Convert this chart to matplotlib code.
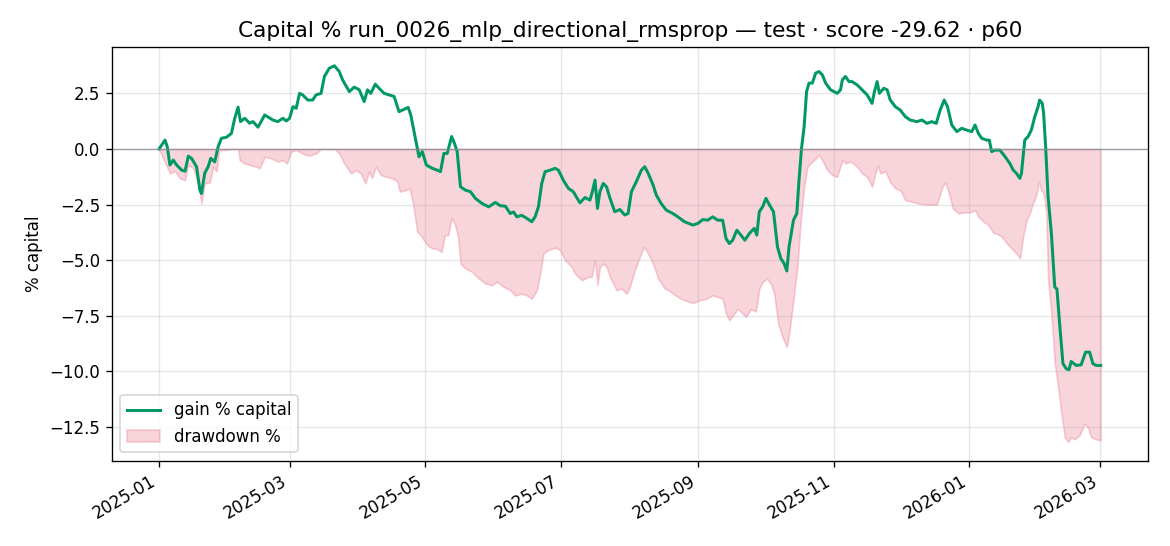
import matplotlib
matplotlib.use("Agg")
import matplotlib.pyplot as plt
import matplotlib.dates as mdates
import pandas as pd
import numpy as np

START = "2025-01-01"
TITLE = "Capital % run_0026_mlp_directional_rmsprop — test · score -29.62 · p60"

gain_days = [
    0, 2.7, 3.7, 4.9, 6.4, 7.9, 10.2, 11.7, 13.2, 14.7, 16.9, 18.4, 19.1, 20.6, 22.1, 23.3,
    25.1, 26.6, 28.1, 30.4, 32.6, 34.1, 35.6, 36.7, 38.6, 40.8, 42.3, 44.6, 47.6, 51.3, 53.5,
    55.8, 57.3, 58.8, 60.3, 61.8, 63.3, 64.7, 67.0, 69.2, 70.7, 73.0, 74.5, 76.7, 79.0, 81.2,
    82.7, 85.7, 87.9, 90.2, 92.4, 93.9, 95.4, 97.4, 99.1, 101.4, 103.6, 105.9, 108.1, 110.4,
    112.2, 113.4, 115.6, 117.1, 118.6, 120.4, 123.1, 125.3, 126.8, 128.3, 129.8, 131.8, 132.8,
    134.3, 135.8, 138.0, 140.3, 142.5, 145.5, 148.5, 151.5, 153.7, 156.0, 158.2, 159.7, 161.2,
    163.4, 165.7, 167.9, 169.4, 170.9, 172.4, 173.9, 176.2, 178.4, 179.9, 182.1, 184.4, 186.6,
    189.6, 191.9, 194.1, 195.2, 196.4, 197.5, 198.6, 200.1, 201.6, 203.1, 205.3, 207.6, 209.8,
    211.3, 212.8, 215.0, 217.3, 218.8, 220.3, 222.5, 224.0, 226.2, 228.5, 231.5, 233.7, 236.7,
    240.5, 242.7, 245.0, 247.2, 249.4, 251.7, 253.9, 255.4, 256.9, 258.4, 260.3, 262.1, 263.9,
    265.9, 268.1, 269.3, 270.4, 271.9, 273.4, 274.9, 276.8, 278.6, 280.1, 281.6, 282.8, 283.8,
    285.8, 287.3, 288.3, 289.4, 290.6, 291.7, 292.8, 294.3, 295.8, 297.3, 298.8, 300.3, 302.5,
    305.5, 307.0, 307.8, 309.2, 310.8, 312.2, 314.5, 316.7, 319.0, 321.2, 322.3, 323.5, 324.5,
    326.5, 328.0, 329.4, 331.7, 333.9, 336.2, 338.4, 341.4, 343.7, 345.9, 348.1, 350.1, 351.9,
    353.7, 355.2, 357.1, 359.4, 361.6, 363.8, 366.1, 367.6, 369.1, 370.6, 372.8, 374.0, 375.1,
    376.5, 378.8, 381.0, 383.3, 384.8, 386.3, 387.8, 388.5, 390.0, 391.5, 393.0, 394.5, 396.0,
    396.7, 397.9, 398.5, 399.4, 400.5, 402.0, 403.5, 404.5, 405.7, 407.2, 408.7, 409.9, 410.9,
    413.2, 415.4, 417.4, 419.2, 420.7, 422.2, 424.2,
]
gain_pct = [
    0.0, 0.4, 0.1, -0.72, -0.5, -0.72, -0.95, -1.0, -0.32, -0.43, -0.8, -1.85, -2.0, -1.08, -0.8, -0.42,
    -0.58, 0.1, 0.48, 0.53, 0.7, 1.38, 1.88, 1.23, 1.38, 1.16, 1.23, 0.98, 1.53, 1.3, 1.23,
    1.38, 1.26, 1.38, 1.9, 1.83, 2.5, 2.43, 2.2, 2.2, 2.43, 2.5, 3.26, 3.63, 3.74, 3.48,
    3.1, 2.58, 2.78, 2.66, 2.13, 2.66, 2.5, 2.91, 2.73, 2.5, 2.43, 2.36, 1.68, 1.78,
    1.87, 1.53, 0.4, -0.35, -0.12, -0.72, -0.87, -0.95, -1.02, -0.2, -0.2, 0.56, 0.33,
    -0.12, -1.7, -1.85, -1.92, -2.22, -2.45, -2.6, -2.4, -2.55, -2.57, -2.9, -2.83, -3.05,
    -2.98, -3.12, -3.27, -3.05, -2.6, -1.55, -1.02, -0.95, -0.87, -0.95, -1.4, -1.77, -1.92,
    -2.42, -2.18, -2.3, -1.92, -1.4, -2.67, -1.92, -1.55, -1.7, -2.2, -2.82, -2.72, -2.97,
    -2.9, -1.92, -1.47, -0.95, -0.8, -1.08, -1.6, -2.07, -2.45, -2.75, -2.9, -3.05, -3.27,
    -3.42, -3.35, -3.17, -3.2, -3.05, -3.2, -3.2, -4.02, -4.25, -4.1, -3.65, -3.87, -4.1,
    -3.8, -3.57, -3.87, -2.82, -2.6, -2.22, -2.5, -2.82, -4.4, -4.92, -5.15, -5.48, -4.4,
    -3.2, -2.9, -1.4, 0.0, 1.0, 2.58, 2.96, 2.96, 3.41, 3.48, 3.33, 2.96, 2.66,
    2.5, 2.66, 3.1, 3.26, 3.03, 3.03, 2.88, 2.66, 2.43, 2.05, 2.58, 3.03, 2.5,
    2.73, 2.66, 2.2, 1.9, 1.75, 1.45, 1.3, 1.23, 1.3, 1.15, 1.23, 1.15, 1.75,
    2.2, 1.9, 1.08, 0.78, 0.93, 0.85, 0.78, 1.08, 0.7, 0.48, 0.4, 0.4, -0.12,
    -0.05, -0.05, -0.33, -0.65, -0.95, -1.1, -1.32, -1.1, 0.4, 0.56, 0.86, 1.45, 1.9,
    2.2, 2.05, 1.6, 0.1, -2.15, -3.8, -6.2, -6.3, -7.85, -9.65, -9.88, -9.92, -9.55,
    -9.73, -9.7, -9.13, -9.13, -9.65, -9.73, -9.73,
]

dd_days = [
    0, 4.9, 7.2, 9.4, 11.7, 13.2, 15.4, 17.6, 19.1, 20.6, 22.9, 24.4, 25.9, 27.1, 29.6, 31.9,
    34.1, 35.6, 36.3, 38.6, 40.8, 43.8, 45.3, 47.6, 50.6, 53.5, 55.8, 57.6, 59.5, 61.8,
    65.5, 67.7, 70.7, 73.0, 79.0, 81.2, 83.4, 86.5, 88.7, 90.9, 92.9, 94.7, 95.9, 97.7,
    99.9, 102.2, 105.1, 107.4, 108.4, 111.1, 112.9, 114.4, 116.3, 117.9, 119.3, 120.8, 123.1,
    124.6, 127.3, 128.8, 130.2, 131.8, 133.2, 134.7, 135.8, 138.0, 141.0, 144.0, 147.0, 150.0,
    152.2, 155.2, 158.2, 160.5, 163.4, 165.7, 167.9, 170.2, 171.7, 173.2, 175.4, 178.4, 180.7,
    182.9, 185.9, 187.4, 190.4, 193.4, 194.9, 196.4, 197.5, 198.6, 200.1, 201.6, 203.1, 206.1,
    208.3, 210.6, 212.1, 214.3, 216.6, 218.5, 220.3, 222.5, 224.8, 227.8, 230.7, 233.7, 236.7,
    240.5, 243.5, 246.5, 249.4, 251.7, 253.9, 255.4, 256.9, 259.2, 260.7, 262.9, 264.4, 266.6,
    268.9, 270.4, 271.9, 273.8, 275.6, 277.1, 278.9, 280.8, 282.8, 284.3, 286.1, 287.6, 289.1,
    290.6, 292.1, 293.5, 295.1, 297.3, 298.8, 301.0, 303.3, 305.5, 307.8, 309.2, 311.5, 314.5,
    316.7, 319.0, 321.2, 322.7, 323.8, 324.9, 327.2, 329.4, 331.7, 333.9, 336.2, 339.1, 342.2,
    345.2, 348.1, 350.4, 352.6, 354.1, 355.6, 357.6, 360.1, 362.4, 365.4, 367.6, 369.1, 371.4,
    373.6, 375.8, 377.3, 379.5, 381.8, 384.0, 386.3, 387.8, 389.3, 390.8, 392.2, 393.7, 395.2,
    396.4, 397.4, 398.5, 399.7, 400.5, 402.0, 403.5, 405.0, 406.5, 408.0, 409.5, 410.9, 412.4,
    414.7, 416.9, 418.4, 419.9, 422.2, 424.2,
]
dd_pct = [
    0.0, -1.1, -1.0, -1.32, -1.4, -0.72, -0.87, -1.55, -2.45, -1.55, -1.5, -0.8, -1.0, -0.05, -0.05, 0.0,
    0.0, 0.0, -0.5, -0.65, -0.72, -0.8, -0.87, -0.35, -0.42, -0.57, -0.5, -0.65, -0.12, -0.05,
    -0.25, -0.3, -0.2, 0.0, 0.0, -0.2, -0.65, -1.1, -0.95, -1.1, -1.55, -1.0, -1.32, -0.8,
    -1.17, -1.25, -1.32, -1.47, -1.92, -1.85, -1.77, -2.45, -3.72, -3.87, -4.1, -4.32, -4.47,
    -4.47, -4.62, -3.87, -3.87, -3.12, -3.35, -3.95, -5.15, -5.37, -5.52, -5.82, -6.05, -6.12,
    -5.97, -6.2, -6.35, -6.58, -6.5, -6.58, -6.73, -6.35, -5.6, -4.7, -4.55, -4.43, -4.55,
    -5.0, -5.3, -5.6, -5.9, -5.75, -5.75, -5.0, -6.12, -5.3, -5.15, -5.3, -5.75, -6.35,
    -6.27, -6.5, -6.2, -5.45, -4.85, -4.4, -4.7, -5.15, -5.82, -6.27, -6.43, -6.65, -6.8,
    -6.92, -6.8, -6.73, -6.58, -6.65, -6.73, -7.4, -7.7, -7.4, -7.18, -7.4, -7.55, -7.2,
    -7.3, -6.28, -5.98, -5.82, -6.05, -6.5, -7.85, -8.45, -8.9, -8.0, -6.5, -5.3, -3.2,
    -1.7, -0.8, -0.65, -0.5, -0.27, -0.5, -0.95, -1.17, -1.25, -0.5, -0.65, -0.57, -0.8,
    -1.1, -1.25, -1.7, -1.1, -0.72, -1.1, -1.0, -1.5, -1.77, -1.85, -2.3, -2.37, -2.45,
    -2.5, -2.5, -2.5, -1.77, -1.5, -1.92, -2.67, -2.9, -2.85, -2.85, -2.75, -3.05, -3.27,
    -3.42, -3.77, -3.8, -3.93, -4.23, -4.47, -4.7, -4.92, -3.93, -3.2, -2.9, -2.45, -2.08,
    -1.47, -1.85, -2.0, -2.9, -5.9, -7.4, -9.65, -10.7, -11.9, -12.95, -13.17, -12.95, -13.05,
    -12.87, -12.35, -12.5, -12.95, -13.05, -13.1,
]

start = pd.Timestamp(START)
gain_dates = start + pd.to_timedelta(gain_days, unit="D")
dd_dates = start + pd.to_timedelta(dd_days, unit="D")

fig = plt.figure(figsize=(9.75, 4.55), dpi=120)
ax = fig.add_axes([0.0957, 0.156, 0.8853, 0.758])

ax.fill_between(dd_dates, dd_pct, 0, color="crimson", alpha=0.18,
                linewidth=1.0, label="drawdown %")
ax.plot(gain_dates, gain_pct, color="#009966", linewidth=1.8, label="gain % capital")
ax.axhline(0, color="#8a8a9a", linewidth=0.8, alpha=0.8)

ax.grid(True, alpha=0.3)
ax.set_ylabel("% capital", fontsize=10)
ax.set_title(TITLE, fontsize=13)

ax.xaxis.set_major_locator(mdates.MonthLocator(bymonth=[1, 3, 5, 7, 9, 11]))
ax.xaxis.set_major_formatter(mdates.DateFormatter("%Y-%m"))
for lbl in ax.get_xticklabels():
    lbl.set_rotation(30)
    lbl.set_ha("right")

handles, labels = ax.get_legend_handles_labels()
order = [labels.index("gain % capital"), labels.index("drawdown %")]
ax.legend([handles[i] for i in order], [labels[i] for i in order], loc="lower left")

fig.savefig("out.png", dpi=120)
